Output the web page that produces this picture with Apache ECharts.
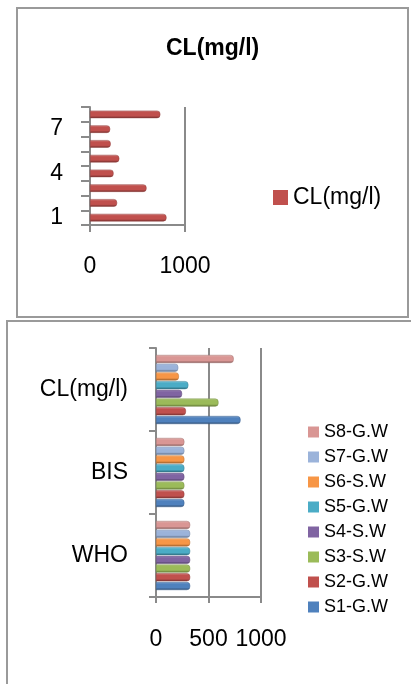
<!DOCTYPE html>
<html>
<head>
<meta charset="utf-8">
<script src="https://cdn.jsdelivr.net/npm/echarts@6/dist/echarts.min.js"></script>
<style>
html,body{margin:0;padding:0;background:#fff;}
#chart{width:411px;height:684px;}
</style>
</head>
<body>
<div id="chart"></div>
<script>
// ---- data ----
const sampleNumbers = ['1', '2', '3', '4', '5', '6', '7', '8'];
const chlorideValues = [805, 285, 595, 248, 308, 218, 212, 740];
const groupCategories = ['WHO', 'BIS', 'CL(mg/l)'];
const sampleNames = ['S1-G.W', 'S2-G.W', 'S3-S.W', 'S4-S.W', 'S5-G.W', 'S6-S.W', 'S7-G.W', 'S8-G.W'];
const whoLimit = 325;
const bisLimit = 270;
const topValueTicks = [0, 1000];
const bottomValueTicks = [0, 500, 1000];
const topTitle = 'CL(mg/l)';
const topSeriesName = 'CL(mg/l)';

// ---- styling ----
const sampleColors = ['#4F81BD', '#C0504D', '#9BBB59', '#8064A2', '#4BACC6', '#F79646', '#9BB3DA', '#D99694'];
const FONT = 'Liberation Sans';
const AXIS_GRAY = '#8a8a8a';

function mix(hex, target, t) {
  const a = parseInt(hex.slice(1), 16);
  const r = (a >> 16) & 255, g = (a >> 8) & 255, b = a & 255;
  const tr = (target >> 16) & 255, tg = (target >> 8) & 255, tb = target & 255;
  const c = (x, y) => Math.round(x + (y - x) * t);
  return 'rgb(' + c(r, tr) + ',' + c(g, tg) + ',' + c(b, tb) + ')';
}
function barGradient(hex) {
  return {
    type: 'linear', x: 0, y: 0, x2: 0, y2: 1,
    colorStops: [
      { offset: 0, color: mix(hex, 0xffffff, 0.3) },
      { offset: 0.25, color: hex },
      { offset: 0.7, color: hex },
      { offset: 1, color: mix(hex, 0x000000, 0.4) }
    ]
  };
}
const plainNumber = (v) => String(v);

const chart = echarts.init(document.getElementById('chart'), null, { renderer: 'canvas' });

// ECharts lays horizontal bars of a band from top to bottom in series order,
// so the series are added S8 first to put S1 at the bottom as in the reference.
const bottomSeries = sampleNames.map((name, i) => ({
  name: name,
  type: 'bar',
  xAxisIndex: 1,
  yAxisIndex: 1,
  barWidth: 8,
  barGap: '9%',
  data: [whoLimit, bisLimit, chlorideValues[i]],
  itemStyle: {
    color: barGradient(sampleColors[i]),
    borderRadius: [0, 3, 3, 0],
    borderColor: mix(sampleColors[i], 0x000000, 0.25),
    borderWidth: 0.5
  },
  emphasis: { disabled: true }
})).reverse();

const option = {
  animation: false,
  backgroundColor: '#ffffff',
  textStyle: { fontFamily: FONT },
  graphic: [
    { type: 'rect', shape: { x: 17, y: 8, width: 391, height: 309 },
      style: { fill: 'none', stroke: '#9a9a9a', lineWidth: 2 }, silent: true },
    { type: 'rect', shape: { x: 7, y: 321, width: 430, height: 400 },
      style: { fill: 'none', stroke: '#9a9a9a', lineWidth: 2 }, silent: true }
  ],
  title: [{
    text: topTitle,
    left: 161,
    top: 32,
    textStyle: { fontFamily: FONT, fontSize: 23, fontWeight: 'bold', color: '#000' }
  }],
  legend: [
    {
      data: [{ name: topSeriesName, itemStyle: { color: '#C0504D', borderWidth: 0 } }],
      left: 268, top: 181,
      icon: 'rect', itemWidth: 15, itemHeight: 15,
      itemStyle: { borderWidth: 0 },
      textStyle: { fontFamily: FONT, fontSize: 23, color: '#000' },
      selectedMode: false
    },
    {
      data: sampleNames.slice().reverse().map((n) => ({
        name: n, itemStyle: { color: sampleColors[sampleNames.indexOf(n)], borderWidth: 0 }
      })),
      orient: 'vertical',
      left: 303, top: 418,
      icon: 'rect', itemWidth: 11, itemHeight: 11, itemGap: 7,
      itemStyle: { borderWidth: 0 },
      textStyle: { fontFamily: FONT, fontSize: 18, color: '#000' },
      selectedMode: false
    }
  ],
  grid: [
    { left: 90, top: 107, width: 95, height: 118, containLabel: false },
    { left: 156, top: 348, width: 105, height: 249, containLabel: false }
  ],
  xAxis: [
    {
      gridIndex: 0, type: 'value', min: topValueTicks[0], max: topValueTicks[topValueTicks.length - 1],
      interval: topValueTicks[1] - topValueTicks[0],
      axisLine: { show: true, lineStyle: { color: AXIS_GRAY, width: 2 } },
      axisTick: { show: true, length: 7, lineStyle: { color: AXIS_GRAY, width: 2 } },
      axisLabel: { margin: 30, fontFamily: FONT, fontSize: 23, color: '#000', formatter: plainNumber },
      splitLine: { show: true, lineStyle: { color: AXIS_GRAY, width: 2 } }
    },
    {
      gridIndex: 1, type: 'value', min: bottomValueTicks[0], max: bottomValueTicks[bottomValueTicks.length - 1],
      interval: bottomValueTicks[1] - bottomValueTicks[0],
      axisLine: { show: true, lineStyle: { color: AXIS_GRAY, width: 2 } },
      axisTick: { show: true, length: 6, lineStyle: { color: AXIS_GRAY, width: 2 } },
      axisLabel: { margin: 31, fontFamily: FONT, fontSize: 23, color: '#000', hideOverlap: false, formatter: plainNumber },
      splitLine: { show: true, lineStyle: { color: AXIS_GRAY, width: 2 } }
    }
  ],
  yAxis: [
    {
      gridIndex: 0, type: 'category', data: sampleNumbers,
      axisLine: { show: true, lineStyle: { color: AXIS_GRAY, width: 2 } },
      axisTick: { show: true, length: 9, interval: 0, lineStyle: { color: AXIS_GRAY, width: 2 } },
      axisLabel: { interval: 2, margin: 27, fontFamily: FONT, fontSize: 23, color: '#000' }
    },
    {
      gridIndex: 1, type: 'category', data: groupCategories,
      axisLine: { show: true, lineStyle: { color: AXIS_GRAY, width: 2 } },
      axisTick: { show: true, length: 7, interval: 0, lineStyle: { color: AXIS_GRAY, width: 2 } },
      axisLabel: { interval: 0, margin: 28, fontFamily: FONT, fontSize: 23, color: '#000' }
    }
  ],
  series: [
    {
      name: topSeriesName,
      type: 'bar',
      xAxisIndex: 0,
      yAxisIndex: 0,
      barWidth: 7.5,
      data: chlorideValues,
      itemStyle: {
        color: barGradient('#C0504D'),
        borderRadius: [0, 3, 3, 0],
        borderColor: mix('#C0504D', 0x000000, 0.25),
        borderWidth: 0.5
      },
      emphasis: { disabled: true }
    }
  ].concat(bottomSeries)
};

chart.setOption(option);
</script>
</body>
</html>
